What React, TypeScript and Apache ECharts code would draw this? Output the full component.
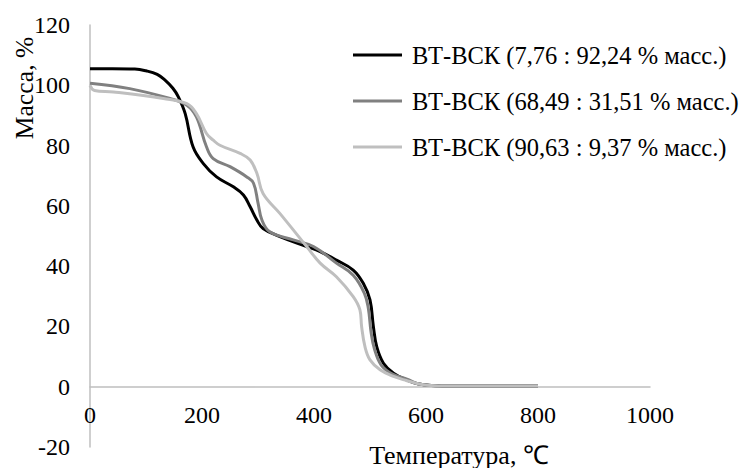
import React, { useEffect, useRef } from "react";
import * as echarts from "echarts";

// Thermogravimetric curves: temperature, °C vs. residual mass, %
const SERIES_NAMES = [
  "ВТ-ВСК (7,76 : 92,24 % масс.)",
  "ВТ-ВСК (68,49 : 31,51 % масс.)",
  "ВТ-ВСК (90,63 : 9,37 % масс.)",
];

const tempA = [0, 40, 80, 100, 120, 134, 148, 158, 170, 184, 202, 226, 256, 274, 286, 298, 309, 339, 387, 411, 440, 470, 488, 500, 506, 512, 524, 542, 566, 585, 610, 650, 700, 800];
const massA = [105.5, 105.5, 105.4, 104.8, 103.6, 101.7, 99, 96.1, 90.6, 79.6, 74.1, 69.6, 66.3, 63.6, 59.7, 55.3, 52.5, 49.8, 46.5, 44.8, 42, 38.7, 34.3, 28.8, 20, 13.3, 7.8, 4.5, 2.2, 1.0, 0.4, 0.2, 0.2, 0.2];

const tempB = [0, 71, 143, 173, 190, 208, 220, 250, 280, 292, 300, 307, 321, 363, 399, 440, 470, 490, 497, 502, 508, 520, 540, 566, 585, 610, 650, 700, 800];
const massB = [100.7, 98.9, 95.6, 93.4, 89.5, 79.6, 75.7, 73, 69.6, 67.5, 61, 55.3, 51.4, 48.7, 46.5, 41, 37, 31, 26, 18, 12.5, 7.2, 4.2, 2.5, 1.0, 0.4, 0.2, 0.2, 0.2];

const tempC = [0, 8, 42, 131, 173, 190, 208, 220, 232, 268, 286, 298, 309, 339, 387, 411, 440, 470, 482, 485, 491, 500, 518, 542, 566, 590, 615, 650, 700, 800];
const massC = [100, 98.3, 97.8, 95.6, 93.9, 90.6, 84, 81.8, 80.1, 77.4, 75.2, 70.8, 64.1, 57.5, 46.5, 41, 36.5, 29.9, 25.5, 20, 13.3, 8.9, 5.6, 3.4, 2, 0.8, 0.3, 0.2, 0.2, 0.2];

const COLORS = ["#000000", "#808080", "#bfbfbf"];

const X_TITLE = "Температура, ℃";
const Y_TITLE = "Масса, %";

const FONT = "Liberation Serif";

const X_MIN = 0;
const X_MAX = 1000;
const Y_MIN = -20;
const Y_MAX = 120;

const GRID_TOP = 25;
const GRID_BOTTOM = 21;
const CHART_H = 468;

const pairs = (t: number[], m: number[]) => t.map((v, i) => [v, m[i]]);

export default function App() {
  const ref = useRef<HTMLDivElement>(null);

  useEffect(() => {
    if (!ref.current) return;
    const chart = echarts.init(ref.current, null, { renderer: "svg" });
    const seriesData = [pairs(tempA, massA), pairs(tempB, massB), pairs(tempC, massC)];

    // lift the temperature axis (line and labels) from the grid bottom to mass = 0
    const plotH = CHART_H - GRID_TOP - GRID_BOTTOM;
    const zeroLift = ((0 - Y_MIN) / (Y_MAX - Y_MIN)) * plotH;

    chart.setOption({
      animation: false,
      backgroundColor: "#ffffff",
      textStyle: { fontFamily: FONT },
      grid: { left: 90, right: 91, top: GRID_TOP, bottom: GRID_BOTTOM, containLabel: false },
      xAxis: {
        type: "value",
        min: X_MIN,
        max: X_MAX,
        interval: 200,
        offset: -zeroLift,
        axisLine: { onZero: false, lineStyle: { color: "#bfbfbf", width: 1.5 } },
        axisTick: { show: false },
        splitLine: { show: false },
        axisLabel: {
          color: "#000",
          fontSize: 24,
          fontFamily: FONT,
          margin: 16,
          formatter: (v: number) => String(v),
        },
      },
      yAxis: {
        type: "value",
        min: Y_MIN,
        max: Y_MAX,
        interval: 20,
        axisLine: { show: true, lineStyle: { color: "#bfbfbf", width: 1.5 } },
        axisTick: { show: false },
        splitLine: { show: false },
        axisLabel: { color: "#000", fontSize: 24, fontFamily: FONT, margin: 20 },
      },
      legend: {
        orient: "vertical",
        left: 353,
        top: 42,
        padding: 0,
        icon: "rect",
        itemWidth: 49,
        itemHeight: 3,
        itemGap: 20,
        textStyle: { color: "#000", fontSize: 24.5, fontFamily: FONT, lineHeight: 26, padding: [0, 0, 0, 5] },
        data: SERIES_NAMES,
      },
      graphic: [
        {
          type: "text",
          x: 459,
          y: 455,
          style: {
            text: X_TITLE,
            fill: "#000",
            fontSize: 26,
            fontFamily: FONT,
            align: "center",
            verticalAlign: "middle",
          },
        },
        {
          type: "text",
          x: 24,
          y: 88,
          rotation: Math.PI / 2,
          style: {
            text: Y_TITLE,
            fill: "#000",
            fontSize: 25.5,
            fontFamily: FONT,
            align: "center",
            verticalAlign: "middle",
          },
        },
      ],
      series: SERIES_NAMES.map((name, i) => ({
        name,
        type: "line",
        data: seriesData[i],
        showSymbol: false,
        smooth: 0.4,
        lineStyle: { color: COLORS[i], width: 3 },
        itemStyle: { color: COLORS[i] },
        z: 2 + i,
      })),
    });

    return () => chart.dispose();
  }, []);

  return (
    <div
      ref={ref}
      style={{ position: "fixed", left: 0, top: 0, width: 741, height: 468, background: "#fff" }}
    />
  );
}
